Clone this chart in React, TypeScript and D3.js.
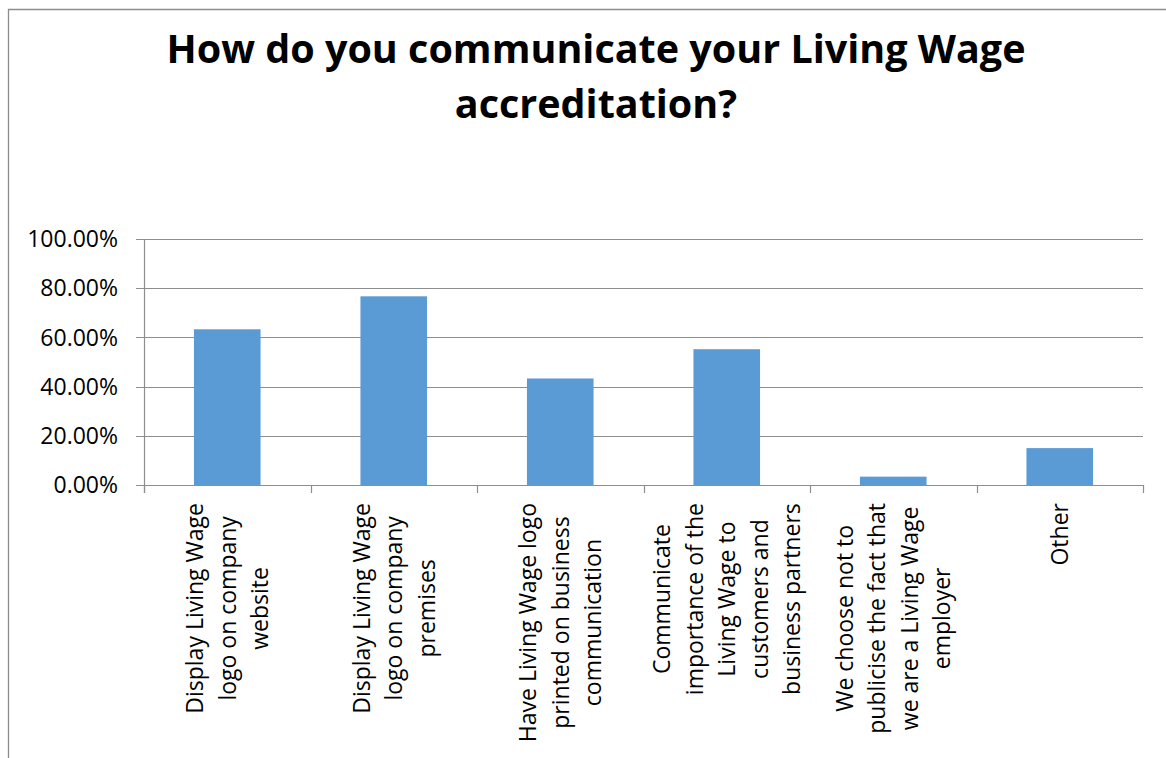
import React, { useEffect, useRef } from "react";
import * as d3 from "d3";

const TITLE_LINES = ["How do you communicate your Living Wage", "accreditation?"];

const categoryLines: string[][] = [
  ["Display Living Wage", "logo on company", "website"],
  ["Display Living Wage", "logo on company", "premises"],
  ["Have Living Wage logo", "printed on business", "communication"],
  ["Communicate", "importance of the", "Living Wage to", "customers and", "business partners"],
  ["We choose not to", "publicise the fact that", "we are a Living Wage", "employer"],
  ["Other"],
];

const values = [63.3, 76.7, 43.3, 55.2, 3.4, 15.0];

const yTicks = [0, 20, 40, 60, 80, 100];

const W = 1166;
const H = 758;
const FONT = "'Open Sans', 'Noto Sans', sans-serif";

export default function App() {
  const ref = useRef<SVGSVGElement>(null);

  useEffect(() => {
    const svg = d3.select(ref.current);
    svg.selectAll("*").remove();

    // outer frame
    svg.append("path")
      .attr("d", `M8.5,${H} L8.5,9.5 L${W},9.5`)
      .attr("fill", "none")
      .attr("stroke", "#8c8c8c")
      .attr("stroke-width", 1.3);

    // title
    const title = svg.append("text")
      .attr("text-anchor", "middle")
      .attr("font-family", FONT)
      .attr("font-weight", "bold")
      .attr("font-size", 39.5)
      .attr("fill", "#000");
    TITLE_LINES.forEach((t, i) => {
      title.append("tspan").attr("x", 596).attr("y", 63 + i * 55).text(t);
    });

    const left = 144, right = 1143, top = 239, bottom = 485;
    const x = d3.scaleBand<number>()
      .domain(d3.range(categoryLines.length))
      .range([left, right])
      .paddingInner(0.6)
      .paddingOuter(0.3);
    const xOuter = d3.scaleBand<number>()
      .domain(d3.range(categoryLines.length))
      .range([left, right]);
    const y = d3.scaleLinear().domain([0, 100]).range([bottom, top]);

    const grid = "#8e8e8e";
    // gridlines
    svg.append("g").selectAll("line")
      .data(yTicks)
      .join("line")
      .attr("x1", left - 8)
      .attr("x2", right)
      .attr("y1", (d) => Math.round(y(d)) + 0.5)
      .attr("y2", (d) => Math.round(y(d)) + 0.5)
      .attr("stroke", grid)
      .attr("stroke-width", 1.2);

    // y axis line
    svg.append("line")
      .attr("x1", left + 0.5).attr("x2", left + 0.5)
      .attr("y1", top).attr("y2", bottom + 8)
      .attr("stroke", grid).attr("stroke-width", 1.2);

    // x ticks
    const xTickPos = d3.range(categoryLines.length + 1).map((i) =>
      i < categoryLines.length ? (xOuter(i) as number) : right
    );
    svg.append("g").selectAll("line")
      .data(xTickPos)
      .join("line")
      .attr("x1", (d) => Math.round(d) + 0.5)
      .attr("x2", (d) => Math.round(d) + 0.5)
      .attr("y1", bottom)
      .attr("y2", bottom + 8)
      .attr("stroke", grid)
      .attr("stroke-width", 1.2);

    // y labels
    svg.append("g").selectAll("text")
      .data(yTicks)
      .join("text")
      .attr("x", 118)
      .attr("y", (d) => y(d))
      .attr("dy", "0.36em")
      .attr("text-anchor", "end")
      .attr("font-family", FONT)
      .attr("font-size", 23)
      .attr("fill", "#000")
      .text((d) => d.toFixed(2) + "%");

    // bars
    svg.append("g").selectAll("rect")
      .data(values)
      .join("rect")
      .attr("x", (_, i) => x(i) as number)
      .attr("width", x.bandwidth())
      .attr("y", (d) => y(d))
      .attr("height", (d) => bottom - y(d))
      .attr("fill", "#5B9BD5");

    // x labels
    const lineGap = 32.5;
    categoryLines.forEach((lines, i) => {
      const cx = (xOuter(i) as number) + xOuter.bandwidth() / 2;
      const g = svg.append("g")
        .attr("transform", `translate(${cx},503) rotate(-90)`);
      const texts = lines.map((t, j) =>
        g.append("text")
          .attr("font-family", FONT)
          .attr("font-size", 23)
          .attr("fill", "#000")
          .attr("text-anchor", "middle")
          .attr("y", (j - (lines.length - 1) / 2) * lineGap)
          .attr("dy", "0.36em")
          .text(t)
      );
      let maxL = 0;
      texts.forEach((tx) => {
        const n = tx.node() as SVGTextElement;
        maxL = Math.max(maxL, n.getComputedTextLength());
      });
      texts.forEach((tx) => tx.attr("x", -maxL / 2));
    });
  }, []);

  return (
    <svg
      ref={ref}
      width={W}
      height={H}
      style={{ position: "absolute", left: 0, top: 0, background: "#fff" }}
    />
  );
}
